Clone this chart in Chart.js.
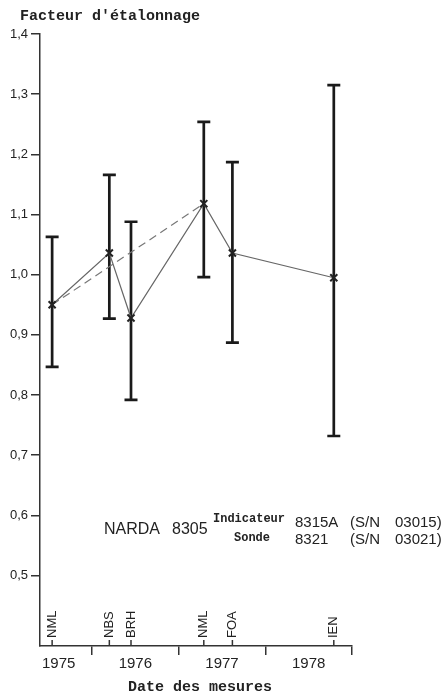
<!DOCTYPE html>
<html>
<head>
<meta charset="utf-8">
<script src="https://cdn.jsdelivr.net/npm/chart.js@4/dist/chart.umd.min.js"></script>
<style>
html, body { margin: 0; padding: 0; background: #fff; }
</style>
</head>
<body>
<canvas id="etalonnage" width="442" height="698"></canvas>
<script>
// laboratoires et dates des mesures
var labos = ['NML', 'NBS', 'BRH', 'NML', 'FOA', 'IEN'];
var dates = [1975.54, 1976.2, 1976.45, 1977.29, 1977.62, 1978.79];
// facteur d'etalonnage et barres d'incertitude
var facteur = [0.950, 1.036, 0.928, 1.118, 1.036, 0.995];
var hautErr = [1.063, 1.166, 1.088, 1.254, 1.187, 1.315];
var basErr = [0.847, 0.927, 0.792, 0.996, 0.887, 0.732];
// les deux mesures NML reliees en tirets
var nmlIdx = [0, 3];
var annees = [1975, 1976, 1977, 1978];
var limitesAnnees = [1976, 1977, 1978, 1979];
var yTicks = [0.5, 0.6, 0.7, 0.8, 0.9, 1.0, 1.1, 1.2, 1.3, 1.4];

var sans = '"Liberation Sans", Arial, sans-serif';
var mono = '"Liberation Mono", "DejaVu Sans Mono", monospace';
var ink = '#222';

var points = dates.map(function (d, i) { return { x: d, y: facteur[i] }; });
var nmlPoints = nmlIdx.map(function (i) { return { x: dates[i], y: facteur[i] }; });

var dessin = {
    id: 'dessin',
    beforeDatasetsDraw: function (chart) {
        var ctx = chart.ctx, xs = chart.scales.x, ys = chart.scales.y;
        ctx.save();
        ctx.strokeStyle = '#1a1a1a';
        ctx.lineWidth = 2.7;
        for (var i = 0; i < dates.length; i++) {
            var px = xs.getPixelForValue(dates[i]);
            var top = ys.getPixelForValue(hautErr[i]);
            var bot = ys.getPixelForValue(basErr[i]);
            ctx.beginPath();
            ctx.moveTo(px, top); ctx.lineTo(px, bot);
            ctx.moveTo(px - 6.5, top); ctx.lineTo(px + 6.5, top);
            ctx.moveTo(px - 6.5, bot); ctx.lineTo(px + 6.5, bot);
            ctx.stroke();
        }
        ctx.restore();
    },
    afterDraw: function (chart) {
        var ctx = chart.ctx, xs = chart.scales.x, area = chart.chartArea;
        ctx.save();
        ctx.fillStyle = ink;
        ctx.strokeStyle = '#333';
        ctx.lineWidth = 1.5;

        // labos : petit trait vers le haut puis nom vertical
        ctx.font = '13px ' + sans;
        for (var i = 0; i < labos.length; i++) {
            var px = xs.getPixelForValue(dates[i]);
            ctx.beginPath();
            ctx.moveTo(px, area.bottom); ctx.lineTo(px, area.bottom - 6);
            ctx.stroke();
            ctx.save();
            ctx.translate(px, area.bottom - 8);
            ctx.rotate(-Math.PI / 2);
            ctx.textAlign = 'left';
            ctx.textBaseline = 'middle';
            ctx.fillText(labos[i], 0, 0);
            ctx.restore();
        }

        // annees
        ctx.font = '15px ' + sans;
        ctx.textAlign = 'center';
        ctx.textBaseline = 'middle';
        annees.forEach(function (a) {
            var w = ctx.measureText(String(a)).width;
            var cx = xs.getPixelForValue(a + 0.5);
            cx = Math.max(cx, area.left + 2 + w / 2);
            ctx.fillText(String(a), cx, area.bottom + 18);
        });

        // titres
        ctx.font = 'bold 15px ' + mono;
        ctx.textAlign = 'left';
        ctx.fillText("Facteur d'étalonnage", 20, 16);
        ctx.fillText('Date des mesures', 128, 687);

        // appareil
        ctx.font = '16px ' + sans;
        ctx.textBaseline = 'alphabetic';
        ctx.fillText('NARDA', 104, 534);
        ctx.fillText('8305', 172, 534);
        ctx.font = '15px ' + sans;
        ctx.fillText('8315A', 295, 527);
        ctx.fillText('(S/N', 350, 527);
        ctx.fillText('03015)', 395, 527);
        ctx.fillText('8321', 295, 544);
        ctx.fillText('(S/N', 350, 544);
        ctx.fillText('03021)', 395, 544);
        ctx.font = 'bold 12px ' + mono;
        ctx.fillText('Indicateur', 213, 522);
        ctx.textAlign = 'center';
        ctx.fillText('Sonde', 252, 541);
        ctx.restore();
    }
};

var chart = new Chart(document.getElementById('etalonnage'), {
    type: 'scatter',
    data: {
        datasets: [{
            data: points,
            showLine: true,
            borderColor: '#666',
            borderWidth: 1.2,
            pointStyle: 'crossRot',
            pointRadius: 5,
            pointBorderWidth: 2,
            pointBorderColor: ink,
            pointHoverRadius: 5
        }, {
            data: nmlPoints,
            showLine: true,
            borderColor: '#777',
            borderWidth: 1.2,
            borderDash: [8, 5],
            pointRadius: 0
        }]
    },
    plugins: [dessin],
    options: {
        responsive: false,
        devicePixelRatio: 1,
        animation: false,
        layout: { padding: { top: 34, right: 90, bottom: 0, left: 0 } },
        plugins: {
            legend: { display: false },
            tooltip: { enabled: false }
        },
        scales: {
            x: {
                type: 'linear',
                min: 1975.4,
                max: 1979,
                afterBuildTicks: function (scale) {
                    scale.ticks = limitesAnnees.map(function (v) { return { value: v }; });
                },
                afterFit: function (scale) { scale.height = 52; },
                ticks: { callback: function () { return ''; } },
                grid: { drawOnChartArea: false, drawTicks: true, tickLength: 9, color: '#333', lineWidth: 1.5 },
                border: { display: true, color: '#333', width: 1.5 }
            },
            y: {
                type: 'linear',
                min: 0.383,
                max: 1.4,
                afterBuildTicks: function (scale) {
                    scale.ticks = yTicks.map(function (v) { return { value: v }; });
                },
                afterFit: function (scale) { scale.width = 40; },
                ticks: {
                    padding: 3,
                    color: '#222',
                    font: { family: sans, size: 13 },
                    callback: function (v) { return v.toFixed(1).replace('.', ','); }
                },
                grid: { drawOnChartArea: false, drawTicks: true, tickLength: 9, color: '#333', lineWidth: 1.5 },
                border: { display: true, color: '#333', width: 1.5 }
            }
        }
    }
});
</script>
</body>
</html>
